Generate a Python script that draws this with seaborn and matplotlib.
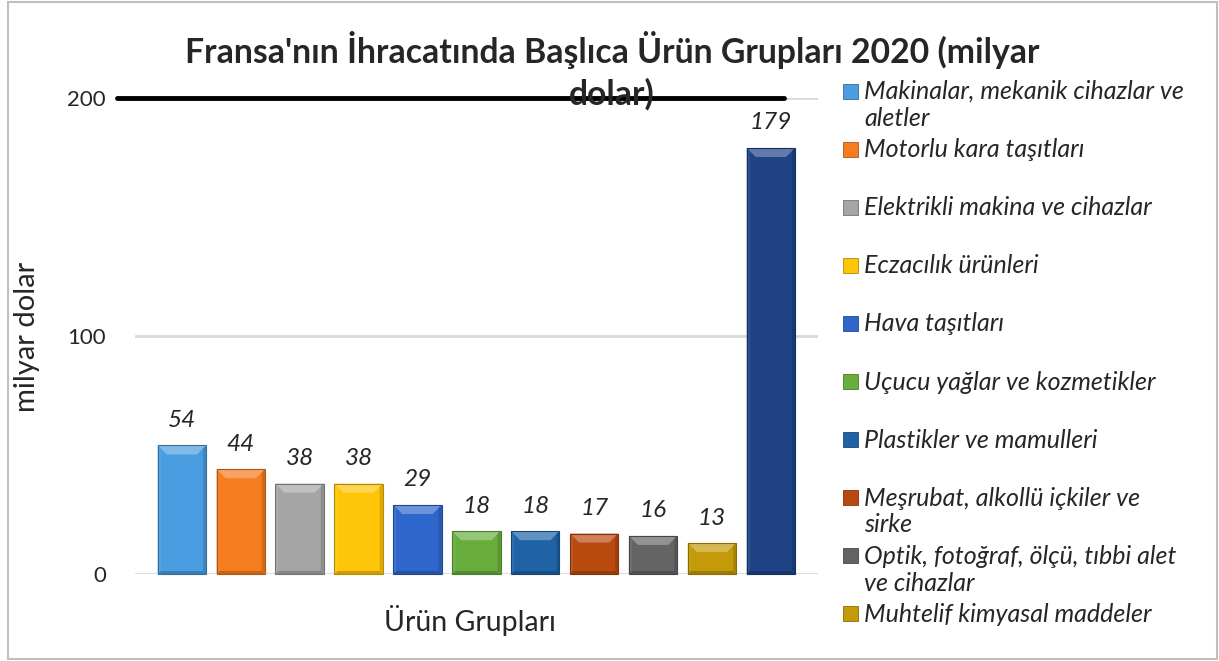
"""
fransa_ihracat.py — Fransa'nın ihracatında başlıca ürün grupları, 2020 (milyar dolar).
"""

import matplotlib.pyplot as plt
import matplotlib.colors as mcolors
import numpy as np
import pandas as pd
import seaborn as sns
from matplotlib.patches import Polygon, Rectangle
from matplotlib.transforms import IdentityTransform

# --- data -----------------------------------------------------------------
categories = [
    "Makinalar, mekanik cihazlar ve\naletler",
    "Motorlu kara taşıtları",
    "Elektrikli makina ve cihazlar",
    "Eczacılık ürünleri",
    "Hava taşıtları",
    "Uçucu yağlar ve kozmetikler",
    "Plastikler ve mamulleri",
    "Meşrubat, alkollü içkiler ve\nsirke",
    "Optik, fotoğraf, ölçü, tıbbi alet\nve cihazlar",
    "Muhtelif kimyasal maddeler",
    "Diğer",
]
values = [54, 44, 38, 38, 29, 18, 18, 17, 16, 13, 179]
colors = ["#4A9DE0", "#F57C1F", "#A5A5A5", "#FFC508", "#2F66CC", "#69AE3D",
          "#1F63A6", "#B84A10", "#646464", "#C49A08", "#1F4386"]
n_legend = 10  # last bar has no legend entry

# title is wrapped over two lines, as Excel did it
TITLE_LINES = ["Fransa'nın İhracatında Başlıca Ürün Grupları 2020 (milyar", "dolar)"]


def shade(c, f):
    """f>0 mixes with white, f<0 mixes with black."""
    r = np.array(mcolors.to_rgb(c))
    if f > 0:
        return tuple(r + (1 - r) * f)
    return tuple(r * (1 + f))


def add_bevel(fig, ax, dt=9, ds=3):
    """Excel-like bevel drawn on top of every bar (display coords)."""
    fig.canvas.draw()
    for p, col in zip(ax.patches, colors):
        bb = p.get_window_extent()
        x0, y0, x1, y1 = bb.x0, bb.y0, bb.x1, bb.y1
        faces = [
            ([(x0, y1), (x1, y1), (x1 - dt, y1 - dt), (x0 + dt, y1 - dt)], shade(col, 0.3)),
            ([(x0, y0), (x1, y0), (x1 - ds, y0 + ds), (x0 + ds, y0 + ds)], shade(col, -0.2)),
            ([(x0, y0), (x0, y1), (x0 + ds, y1 - ds), (x0 + ds, y0 + ds)], shade(col, 0.08)),
            ([(x1, y0), (x1, y1), (x1 - ds, y1 - ds), (x1 - ds, y0 + ds)], shade(col, -0.15)),
        ]
        for pts, fc in faces:
            fig.patches.append(Polygon(pts, closed=True, facecolor=fc, edgecolor="none",
                                       transform=IdentityTransform(), figure=fig))
        fig.patches.append(Rectangle((x0, y0), x1 - x0, y1 - y0, fill=False,
                                     edgecolor=shade(col, -0.3), linewidth=0.8,
                                     transform=IdentityTransform(), figure=fig))


def main() -> None:
    sns.set_style("white")
    plt.rcParams["font.family"] = ["Lato", "DejaVu Sans"]

    W, H = 1219, 661
    fig = plt.figure(figsize=(W / 100, H / 100), dpi=100)
    ax = fig.add_axes([135 / W, 1 - 574 / H, (818 - 135) / W, (574 - 98) / H])

    df = pd.DataFrame({"grup": categories, "deger": values})
    sns.barplot(data=df, x="grup", y="deger", hue="grup", palette=colors,
                width=0.82, legend=False, ax=ax, saturation=1,
                edgecolor="none", linewidth=0)

    ax.set_xlim(-0.795, 10.8)
    ax.set_ylim(0, 200)
    ax.set_yticks([0, 100, 200])
    ax.set_xticks([])
    ax.tick_params(axis="y", length=0, pad=21, labelsize=16)
    for sp in ax.spines.values():
        sp.set_visible(False)
    ax.yaxis.grid(True, color="#D9D9D9", linewidth=2)
    ax.set_axisbelow(True)

    # thick black line over the 200 gridline (as in the source image)
    ax.axhline(200, xmin=-0.026, xmax=0.95, color="black", linewidth=3.5,
               clip_on=False, zorder=5)

    # value labels
    for i, v in enumerate(values):
        ax.annotate(f"{v}", (i, v), xytext=(0, 18), textcoords="offset points",
                    ha="center", va="center", fontsize=17.5, style="italic",
                    annotation_clip=False)

    ax.set_ylabel("milyar dolar", fontsize=21)
    ax.yaxis.set_label_coords(-0.139, 0.498)
    ax.set_xlabel("Ürün Grupları", fontsize=20.5)
    ax.xaxis.set_label_coords(0.49, -0.097)
    ax.xaxis.label.set_va("center")

    for line, y in zip(TITLE_LINES, [50, 94]):
        fig.text(612 / W, 1 - y / H, line, ha="center", va="center",
                 fontsize=24.3, fontweight="bold", zorder=6)

    # legend, Excel-style fixed slots
    for k in range(n_legend):
        yc = 91 + 58.1 * k
        fig.patches.append(Rectangle((843 / W, 1 - (yc + 7.5) / H), 15 / W, 15 / H,
                                     transform=fig.transFigure, facecolor=colors[k],
                                     edgecolor=shade(colors[k], -0.3), linewidth=0.6))
        fig.text(864 / W, 1 - (yc - 11) / H, categories[k], ha="left", va="top",
                 fontsize=18, style="italic", linespacing=1.2)

    # outer frame
    fig.patches.append(Rectangle((8 / W, 2 / H), 1209 / W, 657 / H,
                                 transform=fig.transFigure, fill=False,
                                 edgecolor="#BFBFBF", linewidth=1.5))

    add_bevel(fig, ax)
    fig.savefig("out.png", dpi=100)
    plt.close(fig)


if __name__ == "__main__":
    main()
